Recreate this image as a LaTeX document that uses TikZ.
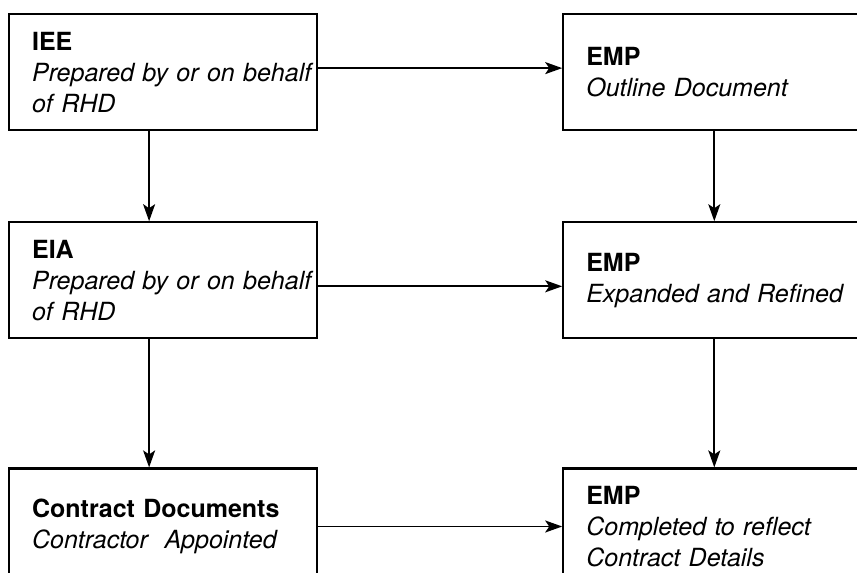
\documentclass[tikz,border=0pt]{standalone}
\usepackage{fontspec}
\setmainfont{TeX Gyre Heros}
\usepackage{tikz}
\usetikzlibrary{positioning,arrows.meta}
\newcommand\fullline[1]{\leavevmode\rlap{#1}}

\begin{document}
\begin{tikzpicture}[x=1pt, y=-1pt, node distance=90pt and 244pt,
  box/.style={draw, line width=2.2pt, minimum width=308pt, minimum height=116pt,
    text width=262pt, inner xsep=23pt, align=left, font=\fontsize{25}{31}\selectfont},
  arr/.style={line width=1.8pt, -{Stealth[length=17pt, width=12pt, inset=4pt]}}]
\useasboundingbox (0,0) rectangle (857,573);
\node[box, anchor=north west] at (8,13) (iee) {\textbf{IEE}\\ \fullline{\itshape Prepared by or on behalf}\\ \textit{of RHD}};
\node[box, right=of iee] (empa) {\textbf{EMP}\\ \textit{Outline Document}};
\node[box, below=of iee] (eia) {\textbf{EIA}\\ \fullline{\itshape Prepared by or on behalf}\\ \textit{of RHD}};
\node[box, below=of empa] (empb) {\textbf{EMP}\\ \textit{Expanded and Refined}};
\node[box, below=128pt of eia] (cd) {\textbf{Contract Documents}\\ \textit{Contractor\ \ Appointed}};
\node[box, below=128pt of empb] (empc) {\textbf{EMP}\\ \textit{Completed to reflect}\\ \textit{Contract Details}};
\draw[arr] ([yshift=4pt]iee.east) -- ([yshift=4pt]empa.west);
\draw[arr] ([yshift=-6pt]eia.east) -- ([yshift=-6pt]empb.west);
\draw[arr] (cd) -- (empc);
\draw[arr] ([xshift=-14pt]iee.south) -- ([xshift=-14pt]eia.north);
\draw[arr] ([xshift=-14pt]eia.south) -- ([xshift=-14pt]cd.north);
\draw[arr] ([xshift=-3pt]empa.south) -- ([xshift=-3pt]empb.north);
\draw[arr] ([xshift=-3pt]empb.south) -- ([xshift=-3pt]empc.north);
\end{tikzpicture}
\end{document}
